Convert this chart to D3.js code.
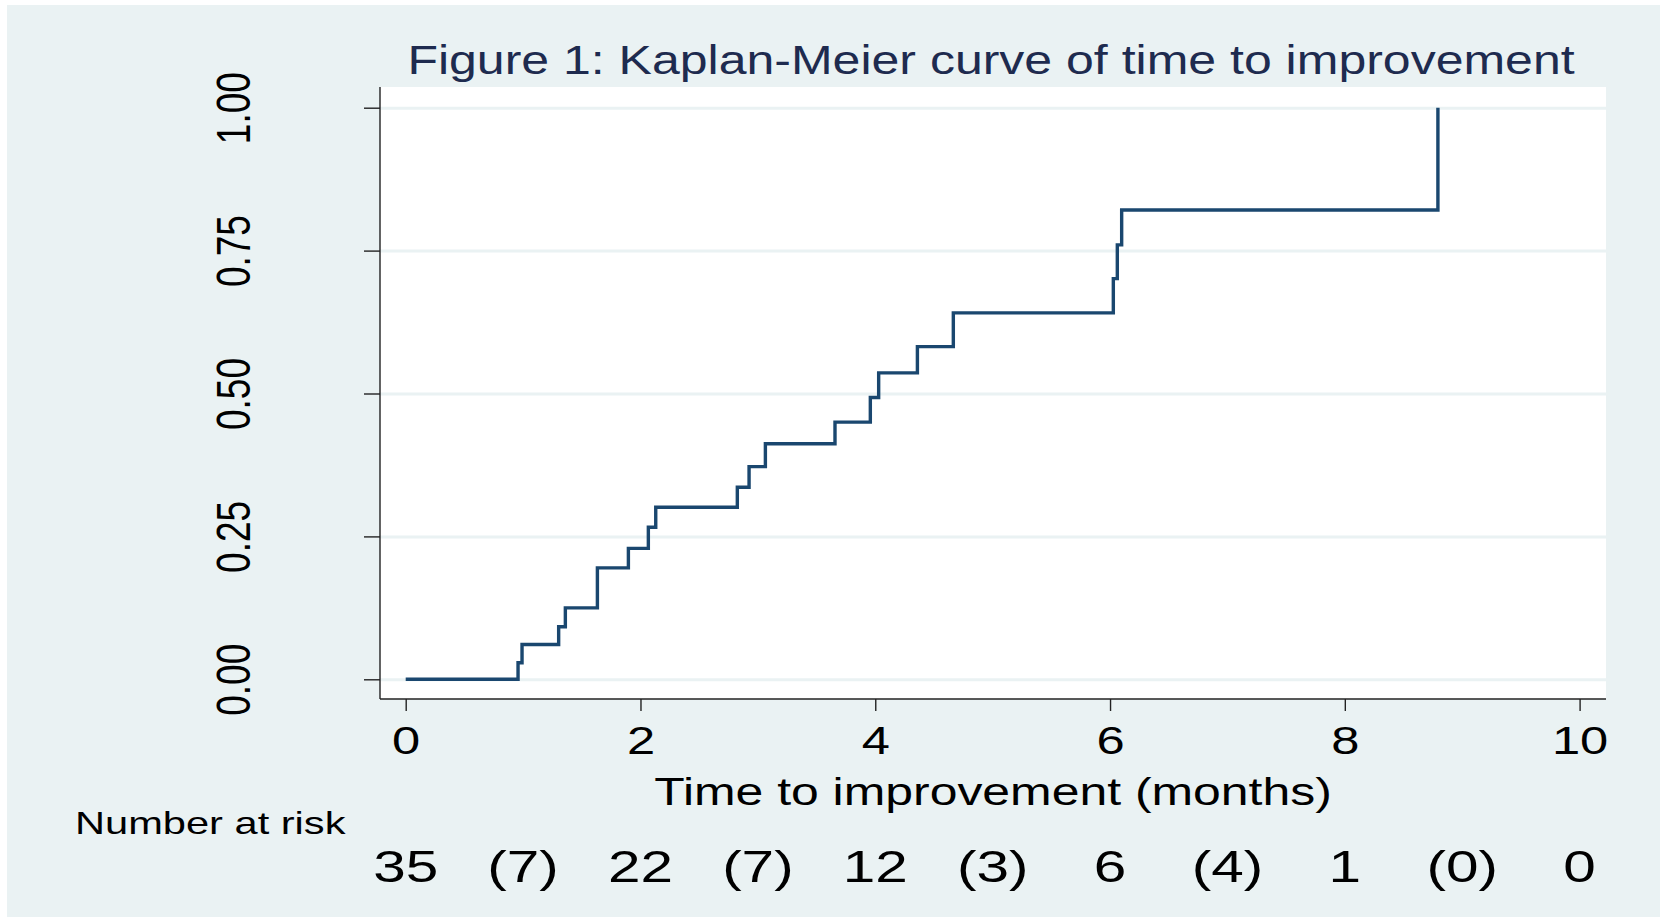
<!DOCTYPE html>
<html>
<head>
<meta charset="utf-8">
<script src="https://cdn.jsdelivr.net/npm/d3@7"></script>
<style>
  body { margin: 0; background: #fff; }
  text { font-family: 'Liberation Sans', Arial, Helvetica, sans-serif; }
</style>
</head>
<body>
<svg id="chart"></svg>
<script>
// step times (months) and cumulative proportion improved
const times = [0, 0.957, 0.991, 1.303, 1.360, 1.633, 1.897, 2.067, 2.130, 2.825,
  2.925, 3.064, 3.657, 3.958, 4.029, 4.359, 4.665, 6.028, 6.062, 6.099, 8.793];
const failure = [0, 0.029, 0.061, 0.092, 0.125, 0.195, 0.229, 0.266, 0.301, 0.336,
  0.372, 0.412, 0.450, 0.493, 0.536, 0.582, 0.641, 0.701, 0.760, 0.821, 1.000];

const xTicks = [0, 2, 4, 6, 8, 10];
const yTicks = [0, 0.25, 0.5, 0.75, 1];

const riskTimes = [0, 1, 2, 3, 4, 5, 6, 7, 8, 9, 10];
const riskLabels = ['35', '(7)', '22', '(7)', '12', '(3)', '6', '(4)', '1', '(0)', '0'];

const title = 'Figure 1: Kaplan-Meier curve of time to improvement';
const xTitle = 'Time to improvement (months)';
const riskTitle = 'Number at risk';

const width = 1660;
const height = 917;
const stretch = 1.3; // text in the source is wider than normal

const svg = d3.select('#chart')
  .attr('width', width)
  .attr('height', height);

svg.append('rect')
  .attr('x', 7).attr('y', 5)
  .attr('width', width - 7).attr('height', height - 5)
  .attr('fill', '#eaf2f3');

const margin = {left: 380, right: 54, top: 87, bottom: 218};
const innerW = width - margin.left - margin.right;
const innerH = height - margin.top - margin.bottom;

const g = svg.append('g')
  .attr('transform', `translate(${margin.left}, ${margin.top})`);

g.append('rect')
  .attr('width', innerW)
  .attr('height', innerH)
  .attr('fill', '#fff');

const xScale = d3.scaleLinear()
  .domain([0, 10])
  .range([25.7, 1199.6]);

const yScale = d3.scaleLinear()
  .domain([0, 1])
  .range([592.3, 20.7]);

// grid
g.append('g')
  .call(d3.axisLeft(yScale).tickValues(yTicks).tickSize(-innerW).tickFormat(''))
  .call(s => s.select('.domain').remove())
  .selectAll('.tick line')
    .attr('stroke', '#eaf2f3')
    .attr('stroke-width', 3);

// curve
const line = d3.line()
  .x(d => xScale(d[0]))
  .y(d => yScale(d[1]))
  .curve(d3.curveStepAfter);

g.append('path')
  .datum(times.map((t, i) => [t, failure[i]]))
  .attr('fill', 'none')
  .attr('stroke', '#1a476f')
  .attr('stroke-width', 3.4)
  .attr('d', line);

// axes
const yAxisG = g.append('g')
  .call(d3.axisLeft(yScale).tickValues(yTicks).tickSize(16).tickFormat(d3.format('.2f')));
yAxisG.select('.domain').remove();
yAxisG.selectAll('.tick line').attr('stroke', '#222').attr('stroke-width', 1.4);
yAxisG.selectAll('.tick text')
  .attr('x', null)
  .attr('dy', '0.36em')
  .attr('fill', '#000')
  .attr('font-size', 37)
  .attr('text-anchor', 'middle')
  .attr('transform', `translate(${233 - margin.left}, 0) scale(${stretch}, 1) rotate(-90)`);

const xAxisG = g.append('g')
  .attr('transform', `translate(0, ${innerH})`)
  .call(d3.axisBottom(xScale).tickValues(xTicks).tickSize(12));
xAxisG.select('.domain').remove();
xAxisG.selectAll('.tick line').attr('stroke', '#222').attr('stroke-width', 1.4);
xAxisG.selectAll('.tick text')
  .attr('y', 55)
  .attr('dy', null)
  .attr('fill', '#000')
  .attr('font-size', 39)
  .attr('transform', `scale(${stretch}, 1)`);

g.append('line')
  .attr('x1', 0).attr('x2', 0)
  .attr('y1', 0).attr('y2', innerH)
  .attr('stroke', '#222').attr('stroke-width', 1.4);
g.append('line')
  .attr('x1', 0).attr('x2', innerW)
  .attr('y1', innerH).attr('y2', innerH)
  .attr('stroke', '#222').attr('stroke-width', 1.4);

// titles
svg.append('text')
  .attr('transform', `translate(991, 74) scale(1.22, 1)`)
  .attr('text-anchor', 'middle')
  .attr('font-size', 41)
  .attr('fill', '#1e2b4f')
  .text(title);

svg.append('text')
  .attr('transform', `translate(${margin.left + innerW / 2}, 805) scale(${stretch}, 1)`)
  .attr('text-anchor', 'middle')
  .attr('font-size', 38.4)
  .attr('fill', '#000')
  .text(xTitle);

svg.append('text')
  .attr('transform', `translate(75, 834) scale(${stretch}, 1)`)
  .attr('font-size', 32)
  .attr('fill', '#000')
  .text(riskTitle);

// number at risk row
svg.append('g')
  .selectAll('text')
  .data(riskTimes)
  .join('text')
    .attr('transform', d => `translate(${margin.left + xScale(d)}, 882) scale(${stretch}, 1)`)
    .attr('text-anchor', 'middle')
    .attr('font-size', 45)
    .attr('fill', '#000')
    .text((d, i) => riskLabels[i]);
</script>
</body>
</html>
